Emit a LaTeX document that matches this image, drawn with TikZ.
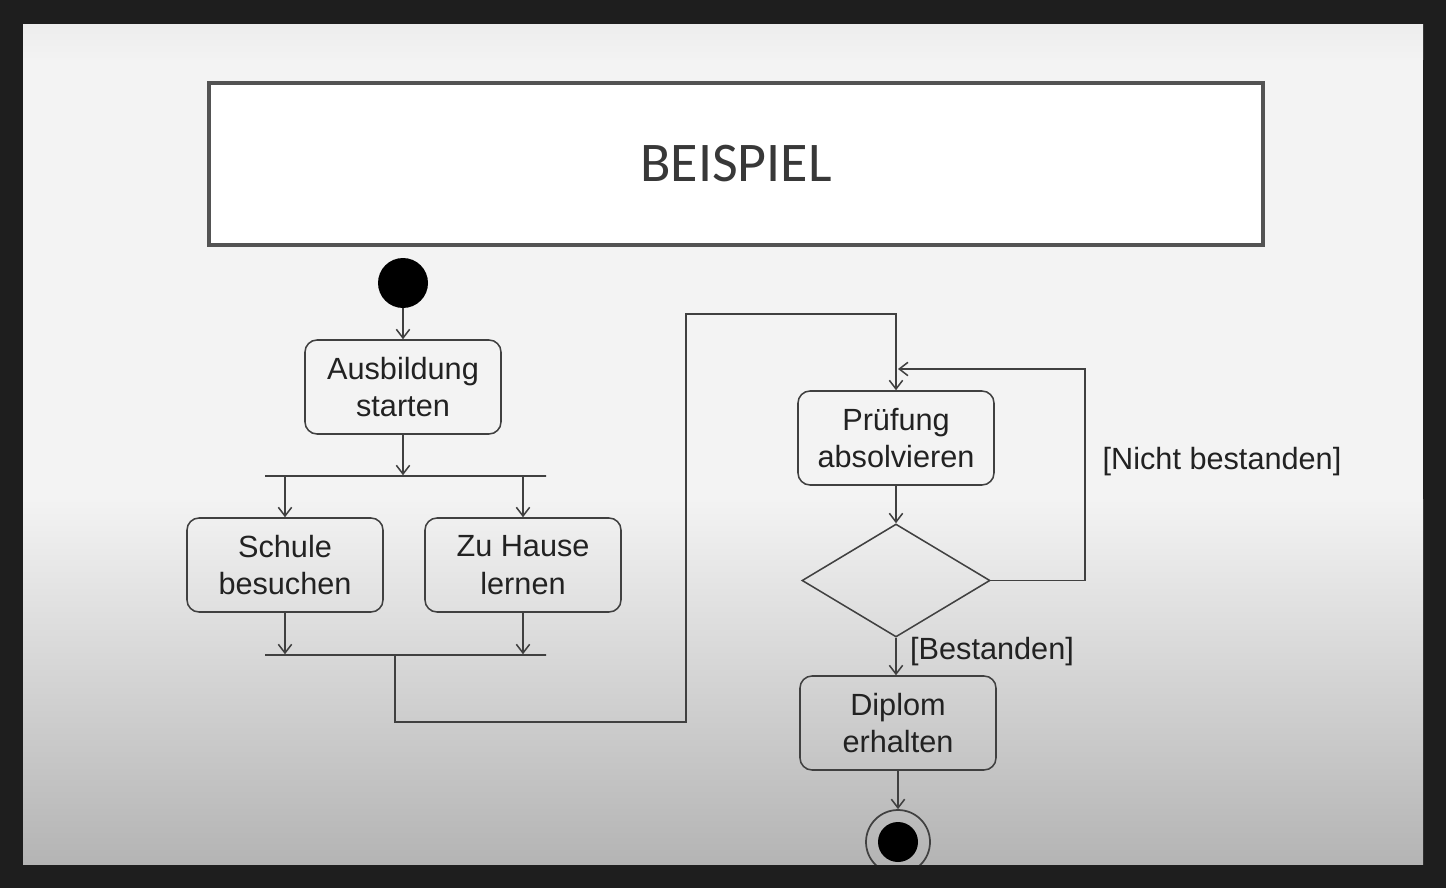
\documentclass[tikz,border=0pt]{standalone}
\usepackage{fontspec}
\setmainfont{Liberation Sans}
\newfontfamily\titlefont{Carlito}
\usetikzlibrary{arrows.meta,shapes.geometric}
\definecolor{frame}{HTML}{1E1E1E}
\definecolor{slidebg}{HTML}{F3F3F3}
\definecolor{slidebot}{HTML}{B4B4B4}
\definecolor{ln}{HTML}{404040}
\definecolor{txt}{HTML}{222222}
\begin{document}
\begin{tikzpicture}[x=0.75pt,y=-0.75pt,
  act/.style={draw=ln, line width=1.15pt, rounded corners=9pt, minimum width=147pt, minimum height=70.5pt,
    align=center, text=txt, font=\fontsize{23}{28}\selectfont, inner sep=0pt},
  bar/.style={draw=ln, line width=1.15pt, minimum height=0pt, inner sep=0pt, minimum width=210.75pt},
  conn/.style={draw=ln, line width=1.15pt},
  arr/.style={conn, -{Straight Barb[length=6.5pt,width=10pt]}},
  lbl/.style={text=txt, font=\fontsize{23}{28}\selectfont, inner sep=0pt}
]
\useasboundingbox (0,0) rectangle (1446,888);
\fill[frame] (0,0) rectangle (1446,888);
\begin{scope}
\clip (23,25) rectangle (1423,864);
\fill[slidebg] (23,25) rectangle (1423,500);
\shade[top color=slidebg, bottom color=slidebot] (23,499) rectangle (1423,864);
\shade[top color=black!7, bottom color=slidebg] (23,25) rectangle (1423,60);

% title
\node[draw=ln!90, line width=3pt, fill=white, minimum width=791pt, minimum height=121pt, inner sep=0pt,
  text=txt!90, font=\titlefont\fontsize{42}{48}\selectfont] (title) at (736,164) {BEISPIEL};

% start
\node[circle, fill=black, minimum size=37.5pt, inner sep=0pt] (start) at (403,283) {};

% actions
\node[act] (aus) at (403,387) {Ausbildung\\starten};
\node[bar] (fork) at (405.5,476) {};
\node[act] (sch) at (285,565) {Schule\\besuchen};
\node[act] (zuh) at (523,565) {Zu Hause\\lernen};
\node[bar] (join) at (405.5,655) {};
\node[act] (pr) at (896,438) {Prüfung\\absolvieren};
\node[diamond, draw=ln, line width=1.15pt, minimum width=141pt, minimum height=84.75pt, inner sep=0pt] (dia) at (896,580.5) {};
\node[act] (dip) at (898,723) {Diplom\\erhalten};

% end
\node[circle, draw=ln, line width=1.3pt, minimum size=48pt, inner sep=0pt] (end) at (898,842) {};
\node[circle, fill=black, minimum size=30pt, inner sep=0pt] (endin) at (end.center) {};

% labels
\node[lbl] (nb) at (1222,462) {[Nicht bestanden]};
\node[lbl] (bs) at (992,652) {[Bestanden]};

% helper coordinates
\coordinate (j1) at (395,655);
\coordinate (k1) at (686,314);
\coordinate (loopc) at (1085,369);

% connectors
\draw[arr] (start) -- (aus.north);
\draw[arr] (aus.south) -- (aus.south |- fork.north);
\draw[arr] (fork.south -| sch.north) -- (sch.north);
\draw[arr] (fork.south -| zuh.north) -- (zuh.north);
\draw[arr] (sch.south) -- (sch.south |- join.north);
\draw[arr] (zuh.south) -- (zuh.south |- join.north);
\draw[arr] (j1) -- ++(0,67) -| (k1) -| (pr.north);
\draw[arr] (pr.south) -- (dia.north);
\draw[arr] (dia.east) -| (loopc) -- ([xshift=1.5pt]loopc -| pr.north);
\draw[arr] (dia.south) -- (dia.south |- dip.north);
\draw[arr] (dip.south) -- (end.north);
\end{scope}
\end{tikzpicture}
\end{document}
